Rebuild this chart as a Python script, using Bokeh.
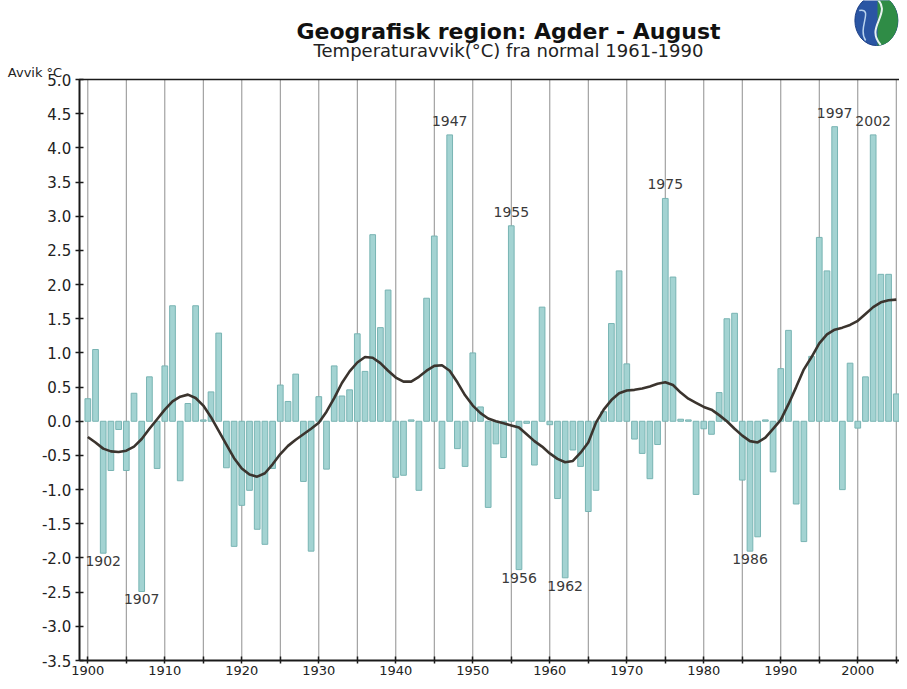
import numpy as np
from bokeh.plotting import figure
from bokeh.models import FixedTicker, PrintfTickFormatter, Range1d
from bokeh.core.properties import value
from bokeh.embed import file_html
from bokeh.resources import INLINE

# ---------------- data ----------------
years = list(range(1900, 2006))
anomaly = [
    0.33, 1.05, -1.93, -0.72, -0.12, -0.72, 0.41, -2.49, 0.65, -0.69,   # 1900-1909
    0.81, 1.69, -0.87, 0.26, 1.69, 0.02, 0.43, 1.29, -0.68, -1.83,      # 1910-1919
    -1.23, -1.01, -1.58, -1.80, -0.69, 0.53, 0.29, 0.69, -0.88, -1.90,  # 1920-1929
    0.36, -0.70, 0.81, 0.37, 0.46, 1.28, 0.73, 2.73, 1.37, 1.92,        # 1930-1939
    -0.82, -0.79, 0.02, -1.01, 1.80, 2.71, -0.69, 4.19, -0.40, -0.66,   # 1940-1949
    1.00, 0.21, -1.26, -0.33, -0.53, 2.86, -2.17, -0.03, -0.64, 1.67,   # 1950-1959
    -0.05, -1.13, -2.29, -0.42, -0.66, -1.32, -1.01, 0.14, 1.43, 2.20,  # 1960-1969
    0.84, -0.26, -0.47, -0.84, -0.34, 3.26, 2.11, 0.03, 0.02, -1.07,    # 1970-1979
    -0.11, -0.19, 0.42, 1.50, 1.58, -0.86, -1.90, -1.69, 0.02, -0.74,   # 1980-1989
    0.77, 1.33, -1.21, -1.76, 0.95, 2.69, 2.20, 4.31, -1.00, 0.85,      # 1990-1999
    -0.10, 0.65, 4.19, 2.15, 2.15, 0.40,                                # 2000-2005
]

smooth_years = list(range(1900, 2006))
smooth_vals = [
    -0.23, -0.31, -0.40, -0.44, -0.45, -0.43, -0.37, -0.26, -0.11, 0.03,   # 1900-1909
    0.17, 0.29, 0.36, 0.39, 0.34, 0.23, 0.06, -0.14, -0.34, -0.54,         # 1910-1919
    -0.69, -0.78, -0.81, -0.76, -0.63, -0.48, -0.36, -0.27, -0.19, -0.11,  # 1920-1929
    -0.02, 0.14, 0.34, 0.56, 0.73, 0.86, 0.94, 0.93, 0.85, 0.74,           # 1930-1939
    0.64, 0.58, 0.58, 0.65, 0.74, 0.81, 0.82, 0.74, 0.57, 0.38,            # 1940-1949
    0.23, 0.12, 0.04, 0.00, -0.03, -0.06, -0.09, -0.19, -0.29, -0.37,      # 1950-1959
    -0.47, -0.55, -0.60, -0.58, -0.46, -0.31, -0.02, 0.17, 0.31, 0.41,     # 1960-1969
    0.45, 0.46, 0.48, 0.51, 0.55, 0.57, 0.53, 0.42, 0.33, 0.27,            # 1970-1979
    0.21, 0.17, 0.09, 0.00, -0.11, -0.21, -0.29, -0.31, -0.24, -0.11,      # 1980-1989
    0.02, 0.25, 0.50, 0.76, 0.94, 1.14, 1.27, 1.34, 1.37, 1.41,            # 1990-1999
    1.47, 1.57, 1.67, 1.74, 1.77, 1.78,                                    # 2000-2005
]

high_years = [1947, 1955, 1975, 1997, 2002]
low_years = [1902, 1907, 1956, 1962, 1986]

x_label_years = [1900, 1910, 1920, 1930, 1940, 1950, 1960, 1970, 1980, 1990, 2000]
x_mid_years = [1905, 1915, 1925, 1935, 1945, 1955, 1965, 1975, 1985, 1995, 2005]
y_tick_values = [-3.5, -3.0, -2.5, -2.0, -1.5, -1.0, -0.5, 0.0, 0.5, 1.0, 1.5,
                 2.0, 2.5, 3.0, 3.5, 4.0, 4.5, 5.0]

title_text = "Geografisk region: Agder - August"
subtitle_text = "Temperaturavvik(°C) fra normal 1961-1990"
y_label_text = "Avvik °C"

FONT = "DejaVu Sans"

# plot box in data units
X0, X1 = 1898.88, 2005.42
Y0, Y1 = -3.5, 5.0

# ---------------- figure ----------------
# Frame fills the canvas; axes sit at fixed locations so the header shares the space.
p = figure(width=899, height=681,
           x_range=Range1d(1888.66, X1), y_range=Range1d(-3.807, 6.156),
           output_backend="svg", toolbar_location=None,
           min_border_left=0, min_border_right=0, min_border_top=0, min_border_bottom=0,
           background_fill_color="white", border_fill_color="white",
           outline_line_color=None)

p.xaxis.fixed_location = Y0
p.xaxis.bounds = (X0, X1)
p.yaxis.fixed_location = X0
p.yaxis.bounds = (Y0, Y1)

p.xaxis.ticker = FixedTicker(ticks=x_label_years, minor_ticks=x_mid_years)
p.yaxis.ticker = FixedTicker(ticks=y_tick_values, minor_ticks=[])
p.yaxis.formatter = PrintfTickFormatter(format="%.1f")
for ax in (p.xaxis, p.yaxis):
    ax.axis_line_color = "#1a1a1a"
    ax.axis_line_width = 2
    ax.major_tick_line_color = "#1a1a1a"
    ax.major_tick_line_width = 1.5
    ax.major_tick_in = 4
    ax.major_tick_out = 4
    ax.minor_tick_line_color = "#1a1a1a"
    ax.minor_tick_line_width = 1.5
    ax.minor_tick_in = 4
    ax.minor_tick_out = 4
    ax.major_label_text_font = FONT
    ax.major_label_text_color = "#222222"
p.xaxis.major_tick_out = 3
p.xaxis.minor_tick_out = 3
p.yaxis.major_label_text_font_size = "15px"
p.yaxis.major_label_standoff = 4
p.xaxis.major_label_text_font_size = "13px"
p.xaxis.major_label_standoff = 2

p.xgrid.grid_line_color = None
p.ygrid.grid_line_color = None

# vertical grid lines (every 5 years), only inside the plot box
grid_years = sorted(x_label_years + x_mid_years)
p.segment(x0=grid_years, y0=[Y0] * len(grid_years),
          x1=grid_years, y1=[Y1] * len(grid_years),
          line_color="#8f8f8f", line_width=1)

# top border of the plot box
p.segment(x0=[X0], y0=[Y1], x1=[X1], y1=[Y1], line_color="#1a1a1a", line_width=1.5)

# bars
p.vbar(x=years, top=anomaly, bottom=0, width=0.74,
       fill_color="#a3d3d2", line_color="#78b4b3", line_width=1)

# smoothed curve
p.line(smooth_years, smooth_vals, line_color="#3b342e", line_width=2.6)

# extreme year labels
val = dict(zip(years, anomaly))
p.text(x=high_years, y=[val[y] for y in high_years], text=[str(y) for y in high_years],
       text_align="center", text_baseline="bottom", y_offset=-9,
       text_font=value(FONT), text_font_size="14px", text_color="#3a3a3a")
p.text(x=low_years, y=[val[y] for y in low_years], text=[str(y) for y in low_years],
       text_align="center", text_baseline="top", y_offset=3,
       text_font=value(FONT), text_font_size="14px", text_color="#3a3a3a")

# ---------------- header ----------------
p.text(x=[1954.64], y=[5.702], text=[title_text], text_align="center",
       text_baseline="alphabetic", text_font=value(FONT), text_font_size="22px",
       text_font_style="bold", text_color="#111111")
p.text(x=[1954.64], y=[5.424], text=[subtitle_text], text_align="center",
       text_baseline="alphabetic", text_font=value(FONT), text_font_size="18px",
       text_color="#222222")
p.text(x=[X0], y=[Y1], x_offset=-17, y_offset=-7, text=[y_label_text],
       text_align="right", text_baseline="alphabetic", text_font=value(FONT),
       text_font_size="13px", text_color="#222222")

# emblem (globe-like logo)
cx, cy = 2002.42, 5.863
rx, ry = 21.5 / 7.70, 25.0 / 68.35
p.ellipse(x=[cx], y=[cy], width=2 * rx, height=2 * ry,
          fill_color="#2a55a3", line_color="#1d3f85", line_width=1)
t = np.linspace(-np.pi / 2, np.pi / 2, 40)
p.patch(x=list(cx + 0.05 * rx + 0.95 * rx * np.cos(t)), y=list(cy + ry * np.sin(t)),
        fill_color="#2f8c46", line_color=None)
p.bezier(x0=[cx - 0.1 * rx], y0=[cy + 0.98 * ry], x1=[cx + 0.2 * rx], y1=[cy - 0.98 * ry],
         cx0=[cx + 0.9 * rx], cy0=[cy + 0.3 * ry], cx1=[cx - 0.6 * rx], cy1=[cy - 0.2 * ry],
         line_color="#e8f2ef", line_width=2)
p.bezier(x0=[cx - 0.8 * rx], y0=[cy + 0.4 * ry], x1=[cx - 0.5 * rx], y1=[cy - 0.8 * ry],
         cx0=[cx - 0.1 * rx], cy0=[cy + 0.5 * ry], cx1=[cx - 0.9 * rx], cy1=[cy - 0.3 * ry],
         line_color="#b9d3ee", line_width=1.5)

open("out.html", "w").write(file_html(p, INLINE))
